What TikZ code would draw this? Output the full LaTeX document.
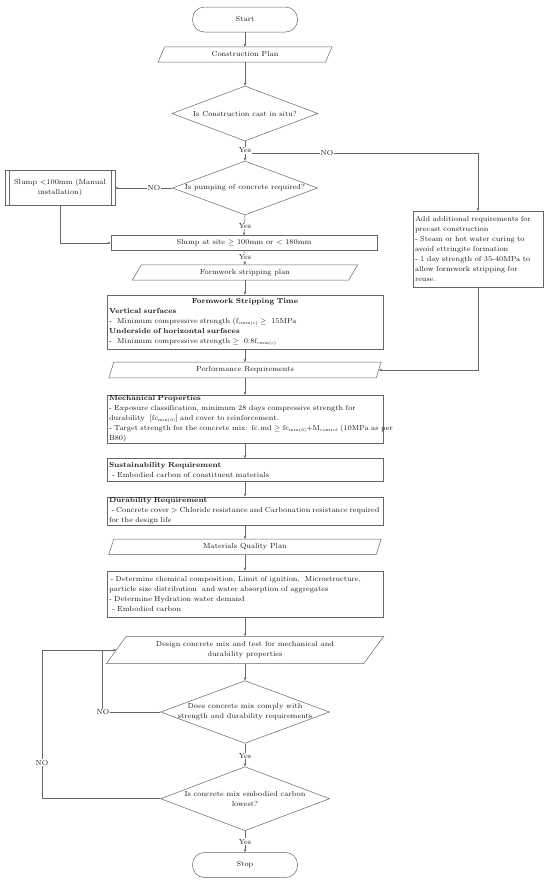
\documentclass[tikz,border=0pt]{standalone}
\usetikzlibrary{arrows.meta,shapes.geometric,calc}
\newcommand\drawpara[2]{\draw[ln] ($(#1.north west)+(#2/2,0)$) -- ($(#1.north east)+(#2/2,0)$) -- ($(#1.south east)-(#2/2,0)$) -- ($(#1.south west)-(#2/2,0)$) -- cycle;}
\newcommand\sbs[1]{\raisebox{-0.9pt}{\fontsize{4.2}{4.2}\selectfont #1}}
\begin{document}
\begin{tikzpicture}[x=1pt,y=-1pt,
  every node/.style={font=\fontsize{7.3}{10}\selectfont, text=black!90},
  ln/.style={draw=black!60, line width=0.5pt},
  arr/.style={ln, -{Stealth[length=3.2pt,width=2.6pt]}},
  term/.style={ln, rounded corners=12pt, minimum width=105pt, minimum height=25pt, inner sep=0pt},
  dia/.style={ln, diamond, inner sep=0pt},
  box/.style={ln, rectangle, inner xsep=2pt, inner ysep=0.5pt, align=left},
  cbox/.style={ln, rectangle, inner sep=1pt, align=center},
  ptext/.style={inner sep=0pt, align=center},
  lab/.style={fill=white, inner sep=0.8pt}]
\fill[white] (0,0) rectangle (550,884);
\useasboundingbox (0,0) rectangle (550,884);

% nodes
\node[term] (start) at (245,19.5) {Start};
\node[ptext, minimum width=167pt, minimum height=15pt] (cp) at (245,54.5) {Construction Plan};
\node[dia, minimum width=146pt, minimum height=55pt] (d1) at (245,113.5) {};
\node[ptext] (d1t) at (d1) {Is Construction cast in situ?};
\coordinate (j1) at (245,153.5);
\node[dia, minimum width=145pt, minimum height=54pt] (d2) at (245,188) {};
\node[ptext] (d2t) at (d2) {Is pumping of concrete required?};
\node[cbox, minimum width=110pt, minimum height=35pt] (sl) at (60,188) {Slump {<}100mm (Manual\\installation)};
\node[cbox, minimum width=266pt, minimum height=14.6pt] (ss) at (244,243) {Slump at site $\geq$ 100mm or $<$ 180mm};
\node[ptext, minimum width=216pt, minimum height=15pt] (fsp) at (245,272.5) {Formwork stripping plan};
\node[box, text width=126pt, anchor=north, minimum height=75.5pt] (rb) at (478,211) {Add additional requirements for\\precast construction\\- Steam or hot water curing to\\avoid ettringite formation\\- 1 day strength of 35-40MPa to\\allow formwork stripping for\\reuse.};
\node[box, text width=272pt, anchor=north, minimum height=54.6pt] (fst) at (245,294.7) {\makebox[272pt][c]{\textbf{Formwork Stripping Time}}\\\textbf{Vertical surfaces}\\-\hspace{3pt} Minimum compressive strength (f\sbs{cmin(c)} $\geq$\ \ 15MPa\\\textbf{Underside of horizontal surfaces}\\-\hspace{3pt} Minimum compressive strength $\geq$\ \ 0.8f\sbs{cmin(c)}};
\node[ptext, minimum width=267pt, minimum height=15.4pt] (pr) at (245,370) {Performance Requirements};
\node[box, text width=272pt, anchor=north, minimum height=47.3pt] (mech) at (245,395) {\textbf{Mechanical Properties}\\- Exposure classification, minimum 28 days compressive strength for\\durability\ \ [fc\sbs{min(d)}] and cover to reinforcement.\\\mbox{- Target strength for the concrete mix: fc.md $\geq$ fc\sbs{min(d)}+M\sbs{control} (10MPa as per}\\B80)};
\node[box, text width=272pt, anchor=north, minimum height=22.4pt] (sust) at (245,458.3) {\textbf{Sustainability Requirement}\\\hspace*{3pt}- Embodied carbon of constituent materials};
\node[box, text width=272pt, anchor=north, minimum height=28.3pt] (dur) at (245,496.7) {\textbf{Durability Requirement}\\\mbox{\spaceskip=1.9pt\hspace*{2.5pt}- Concrete cover > Chloride resistance and Carbonation resistance required}\\for the design life};
\node[ptext, minimum width=267pt, minimum height=15pt] (mqp) at (245,546.8) {Materials Quality Plan};
\node[box, text width=272pt, anchor=north, minimum height=46.6pt] (det) at (245,570.7) {\hspace*{1.5pt}- Determine chemical composition, Limit of ignition,\ \ Microstructure,\\particle size distribution\ \ and water absorption of aggregates\\- Determine Hydration water demand\\\hspace*{3pt}- Embodied carbon};
\node[ptext, minimum width=257pt, minimum height=27pt] (des) at (245,650) {Design concrete mix and test for mechanical and\\durability properties};
\node[dia, minimum width=169pt, minimum height=62.6pt] (d3) at (245,712) {};
\node[ptext] (d3t) at (d3) {Does concrete mix comply with\\strength and durability requirements};
\node[dia, minimum width=169pt, minimum height=64pt] (d4) at (245,798.7) {};
\node[ptext] (d4t) at (d4) {Is concrete mix embodied carbon\\lowest?};
\node[term] (stop) at (245,865) {Stop};

% parallelograms and decorations
\drawpara{cp}{6.6}
\drawpara{fsp}{9}
\drawpara{pr}{5}
\drawpara{mqp}{5}
\drawpara{des}{20}
\draw[ln] ([xshift=4.5pt]sl.north west) -- ([xshift=4.5pt]sl.south west);
\draw[ln] ([xshift=-4.5pt]sl.north east) -- ([xshift=-4.5pt]sl.south east);

% connectors
\coordinate (lo) at (42,650);
\coordinate (li) at (102,650);
\draw[arr] (start) -- (cp);
\draw[arr] (cp) -- (d1);
\draw[ln] (d1.south) -- (j1);
\draw[arr] (j1) -- (d2.north);
\draw[arr] (j1) -| (rb.north);
\draw[arr] (d2.west) -- (sl.east);
\draw[arr] (d2.south) -- (ss.north);
\draw[arr] (sl.south) |- (ss.west);
\draw[arr] (ss.south) -- (fsp.north);
\draw[arr] (fsp.south) -- (fst.north);
\draw[arr] (fst.south) -- (pr.north);
\draw[arr] (rb.south) |- (pr.east);
\draw[arr] (pr.south) -- (mech.north);
\draw[arr] (mech.south) -- (sust.north);
\draw[arr] (sust.south) -- (dur.north);
\draw[arr] (dur.south) -- (mqp.north);
\draw[arr] (mqp.south) -- (det.north);
\draw[arr] (det.south) -- (des.north);
\draw[arr] (des.south) -- (d3.north);
\draw[arr] (d3.south) -- (d4.north);
\draw[arr] (d4.south) -- (stop.north);
\draw[arr] (d4.west) -| (lo) -- (des.west);
\draw[ln] (d3.west) -| (li);

% labels
\node[lab] (l1) at (245,150.5) {Yes};
\node[lab] (l2) at (327,153.5) {NO};
\node[lab] (l3) at (154,188) {NO};
\node[lab] (l4) at (245,226) {Yes};
\node[lab] (l5) at (245,257.3) {Yes};
\node[lab] (l6) at (103,712) {NO};
\node[lab] (l7) at (245,756) {Yes};
\node[lab] (l8) at (42,762.7) {NO};
\node[lab] (l9) at (245,841.7) {Yes};
\end{tikzpicture}
\end{document}
